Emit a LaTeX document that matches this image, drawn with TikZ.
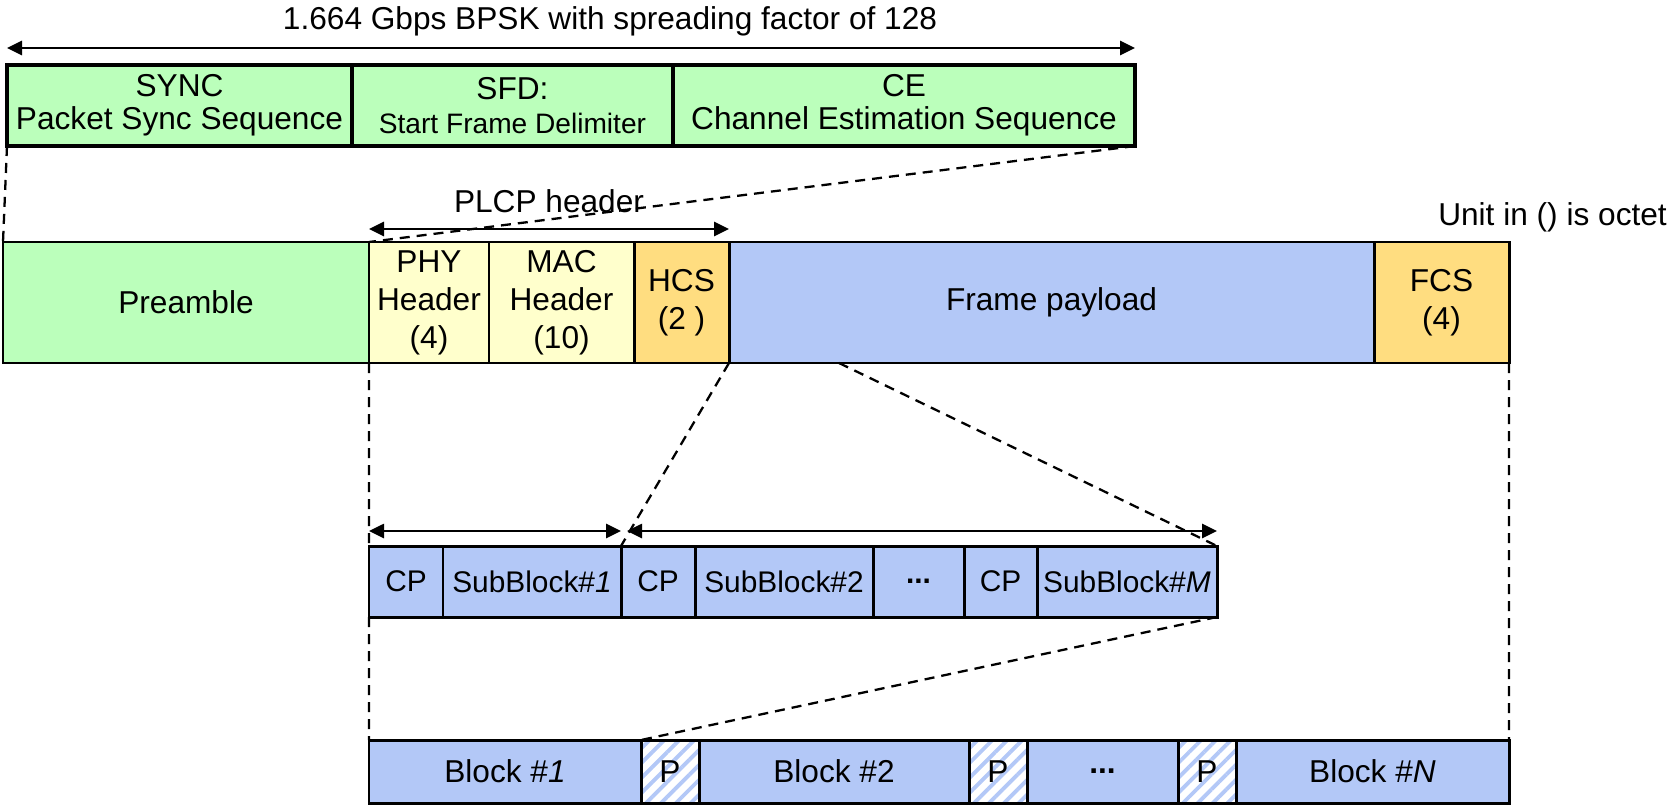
\documentclass[tikz,border=0pt]{standalone}
\usepackage{fontspec}
\setmainfont{Liberation Sans}
\usepackage{xcolor}
\usepackage{tikz}
\usetikzlibrary{arrows.meta, positioning, patterns.meta}
\definecolor{pregreen}{RGB}{187, 255, 187}
\definecolor{hdryellow}{RGB}{255, 255, 204}
\definecolor{crcorange}{RGB}{255, 221, 128}
\definecolor{payblue}{RGB}{179, 200, 247}

\begin{document}
\begin{tikzpicture}[
    font=\fontsize{18}{21.6}\selectfont,
    field/.style={rectangle, draw=black, line width=1.7pt, outer sep=0pt, inner sep=1pt, align=center},
    seqbox/.style={field, fill=pregreen, line width=2.2pt, minimum height=1.62cm, font=\fontsize{18}{19}\selectfont},
    hdrbox/.style={field, minimum height=2.42cm},
    subbox/.style={field, fill=payblue, minimum height=1.42cm, font=\fontsize{17}{20}\selectfont},
    blkbox/.style={field, fill=payblue, minimum height=1.26cm},
    padbox/.style={field, pattern={Lines[angle=45, distance=6pt, line width=2.2pt]}, pattern color=payblue, minimum height=1.26cm, minimum width=1.16cm},
    arrow/.style={line width=1.5pt, <->, >={Triangle[length=0.3cm, width=0.28cm]}},
    guide/.style={line width=1.3pt, dash pattern=on 0.2cm off 0.14cm}
]
    \useasboundingbox (0,0) rectangle (33.48,-16.16);

    % preamble detail
    \node[anchor=base] (rate) at (12.2,-0.58) {1.664 Gbps BPSK with spreading factor of 128};
    \node[seqbox, minimum width=6.90cm] (sync) at (3.59,-2.11) {SYNC\\Packet Sync Sequence};
    \node[seqbox, minimum width=6.42cm, right=0pt of sync] (sfd) {SFD:\\{\fontsize{16}{19}\selectfont Start Frame Delimiter}};
    \node[seqbox, minimum width=9.24cm, right=0pt of sfd] (ce) {CE\\Channel Estimation Sequence};

    % frame
    \node[hdrbox, fill=pregreen, minimum width=7.32cm] (pre) at (3.72,-6.05) {Preamble};
    \node[hdrbox, fill=hdryellow, minimum width=2.40cm, right=0pt of pre] (phy) {PHY\\Header\\(4)};
    \node[hdrbox, fill=hdryellow, minimum width=2.90cm, right=0pt of phy] (mac) {MAC\\Header\\(10)};
    \node[hdrbox, fill=crcorange, minimum width=1.90cm, right=0pt of mac] (hcs) {HCS\\(2 )};
    \node[hdrbox, fill=payblue, minimum width=12.90cm, right=0pt of hcs] (pay) {Frame payload};
    \node[hdrbox, fill=crcorange, minimum width=2.70cm, right=0pt of pay] (fcs) {FCS\\(4)};
    \node[anchor=base east] (unit) at (33.46,-4.50) {Unit in () is octet};

    % sub-blocks
    \node[subbox, minimum width=1.48cm] (cpa) at (8.12,-11.63) {CP};
    \node[subbox, minimum width=3.56cm, right=0pt of cpa] (sba) {SubBlock\#\textit{1}};
    \node[subbox, minimum width=1.48cm, right=0pt of sba] (cpb) {CP};
    \node[subbox, minimum width=3.56cm, right=0pt of cpb] (sbb) {SubBlock\#2};
    \node[subbox, minimum width=1.82cm, right=0pt of sbb] (sbdots) {\textbf{...}};
    \node[subbox, minimum width=1.46cm, right=0pt of sbdots] (cpm) {CP};
    \node[subbox, minimum width=3.60cm, right=0pt of cpm] (sbm) {SubBlock\#\textit{M}};

    % blocks
    \node[blkbox, minimum width=5.44cm] (blka) at (10.10,-15.43) {Block \#\textit{1}};
    \node[padbox, right=0pt of blka] (pada) {P};
    \node[blkbox, minimum width=5.40cm, right=0pt of pada] (blkb) {Block \#2};
    \node[padbox, right=0pt of blkb] (padb) {P};
    \node[blkbox, minimum width=3.02cm, right=0pt of padb] (blkdots) {\textbf{...}};
    \node[padbox, right=0pt of blkdots] (padc) {P};
    \node[blkbox, minimum width=5.46cm, right=0pt of padc] (blkn) {Block \#\textit{N}};

    % spans
    \draw[arrow] ([yshift=0.34cm]sync.north west) -- ([yshift=0.34cm]ce.north east);
    \draw[arrow] ([yshift=0.26cm]phy.north west) -- node[above=5pt] (plcp) {PLCP header} ([yshift=0.26cm]hcs.north east);
    \draw[arrow] ([yshift=0.30cm]cpa.north west) -- ([yshift=0.30cm]cpb.north west);
    \draw[arrow] ([xshift=0.12cm, yshift=0.30cm]cpb.north west) -- ([yshift=0.30cm]sbm.north east);

    % zoom lines
    \draw[guide] (sync.south west) -- (pre.north west);
    \draw[guide] (ce.south east) -- (phy.north west);
    \draw[guide] (phy.south west) -- (cpa.north west);
    \draw[guide] (cpa.south west) -- (blka.north west);
    \draw[guide] (hcs.south east) -- (cpb.north west);
    \draw[guide] ([xshift=2.2cm]pay.south west) -- (sbm.north east);
    \draw[guide] (fcs.south east) -- (blkn.north east);
    \draw[guide] (sbm.south east) -- (pada.north west);
\end{tikzpicture}
\end{document}
